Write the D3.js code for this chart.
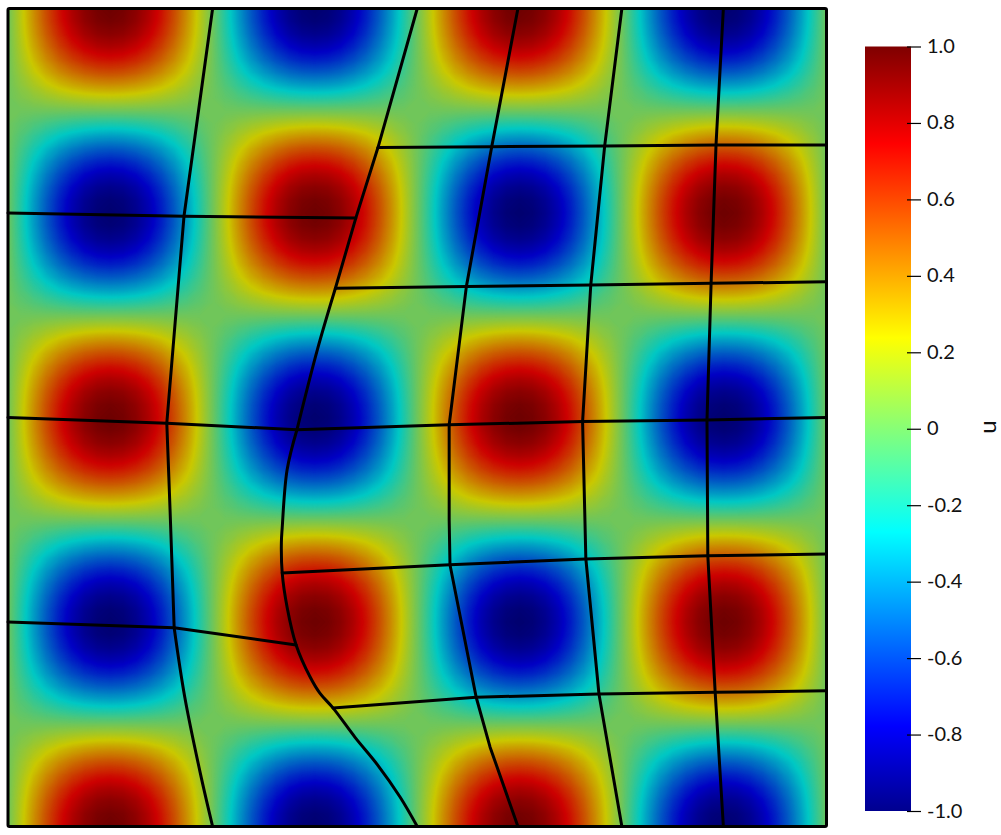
<!DOCTYPE html>
<html>
<head>
<meta charset="utf-8">
<script src="https://cdn.jsdelivr.net/npm/d3@7"></script>
<style>
html,body{margin:0;padding:0;background:#fff;overflow:hidden}
text{font-family:"Lato","Open Sans",sans-serif;fill:#111}
</style>
</head>
<body>
<svg id="chart" width="1001" height="835"></svg>
<script>
// Colour bar
const legendTicks = [1, 0.8, 0.6, 0.4, 0.2, 0, -0.2, -0.4, -0.6, -0.8, -1];
const legendLabels = ["1.0", "0.8", "0.6", "0.4", "0.2", "0", "-0.2", "-0.4", "-0.6", "-0.8", "-1.0"];
const colorStops = [-1, -0.778, -0.27, -0.016, 0.238, 0.746, 1];
const barColors = ["#00008f", "#0000ff", "#00ffff", "#7fff7f", "#ffff00", "#ff0000", "#7f0000"];
const fieldColors = ["#00006e", "#0000c4", "#00c8c4", "#68c662", "#cac800", "#cc0000", "#6e0000"];

// Field u sampled along x (left to right) and y (top to bottom), 65 samples each
const uAlongX = [
  0, .195, .383, .556, .707, .831, .924, .981, 1, .981, .924, .831, .707, .556, .383, .195,
  0, -.195, -.383, -.556, -.707, -.831, -.924, -.981, -1, -.981, -.924, -.831, -.707, -.556, -.383, -.195,
  0, .195, .383, .556, .707, .831, .924, .981, 1, .981, .924, .831, .707, .556, .383, .195,
  0, -.195, -.383, -.556, -.707, -.831, -.924, -.981, -1, -.981, -.924, -.831, -.707, -.556, -.383, -.195,
  0];
const uAlongY = [
  1, .981, .924, .831, .707, .556, .383, .195, 0, -.195, -.383, -.556, -.707, -.831, -.924, -.981,
  -1, -.981, -.924, -.831, -.707, -.556, -.383, -.195, 0, .195, .383, .556, .707, .831, .924, .981,
  1, .981, .924, .831, .707, .556, .383, .195, 0, -.195, -.383, -.556, -.707, -.831, -.924, -.981,
  -1, -.981, -.924, -.831, -.707, -.556, -.383, -.195, 0, .195, .383, .556, .707, .831, .924, .981,
  1];

// Mesh lines in domain coordinates [x, y] (y upwards): straight pieces
const meshV1Top = [[.25,1],[.215,.746],[.194,.493]];
const meshV2Top = [[.5,1],[.452,.83],[.425,.744],[.4,.658]];
const meshV3 = [[.623,1],[.591,.831],[.56,.66],[.539,.491],[.539,.375],[.54,.32],[.572,.158],[.589,.097],[.623,0]];
const meshV4 = [[.75,1],[.729,.832],[.712,.662],[.702,.495],[.706,.327],[.722,.162],[.75,0]];
const meshV5 = [[.874,1],[.865,.833],[.859,.664],[.854,.497],[.855,.331],[.864,.164],[.874,0]];
const meshH1 = [[0,.75],[.215,.746],[.425,.744]];
const meshH2 = [[.452,.83],[.591,.831],[.729,.832],[.865,.833],[1,.833]];
const meshH3 = [[.4,.658],[.56,.66],[.712,.662],[.859,.664],[1,.666]];
const meshH4 = [[0,.5],[.194,.493],[.353,.485],[.539,.491],[.702,.495],[.854,.497],[1,.5]];
const meshH5 = [[.335,.31],[.54,.32],[.706,.327],[.855,.331],[1,.333]];
const meshH6 = [[0,.25],[.203,.243],[.352,.222]];
const meshH7 = [[.397,.145],[.572,.158],[.722,.162],[.864,.164],[1,.166]];
const straightLines = [meshV1Top, meshV2Top, meshV3, meshV4, meshV5, meshH1, meshH2, meshH3, meshH4, meshH5, meshH6, meshH7];

// Mesh lines: curved pieces
const meshV1Mid = [[.194,.493],[.198,.387],[.203,.243]];
const meshV1Low = [[.203,.243],[.216,.158],[.235,.065],[.25,0]];
const meshV2Mid = [[.4,.658],[.378,.583],[.353,.485]];
const meshV2Low = [[.353,.485],[.341,.436],[.335,.365],[.334,.347],[.335,.31],[.341,.268],[.352,.222],[.369,.183],[.381,.163],[.397,.145],[.424,.109],[.451,.076],[.479,.036],[.5,0]];
const curvedLines = [meshV1Mid, meshV1Low, meshV2Mid, meshV2Low];

const svg = d3.select("#chart");
const plot = {left: 8, right: 826.5, top: 8.5, bottom: 826.5};
const x = d3.scaleLinear().domain([0, 1]).range([plot.left, plot.right]);
const y = d3.scaleLinear().domain([0, 1]).range([plot.bottom, plot.top]);
const colX = d3.scaleLinear().domain([0, uAlongX.length - 1]).range([plot.left, plot.right]);
const rowY = d3.scaleLinear().domain([0, uAlongY.length - 1]).range([plot.top, plot.bottom]);

const fieldColor = d3.scaleLinear().domain(colorStops).range(fieldColors).clamp(true);
const barColor = d3.scaleLinear().domain(colorStops).range(barColors).clamp(true);

// Field as filled contours
const nx = uAlongX.length, ny = uAlongY.length;
const grid = new Array(nx * ny);
uAlongY.forEach((vy, j) => uAlongX.forEach((vx, i) => { grid[j * nx + i] = vx * vy; }));
const levels = d3.range(-1, 1.0001, 2 / 256);
const contours = d3.contours().size([nx, ny]).thresholds(levels)(grid);
const toScreen = d3.geoTransform({point(a, b) { this.stream.point(colX(a - 0.5), rowY(b - 0.5)); }});
const contourPath = d3.geoPath(toScreen);

svg.append("defs").append("clipPath").attr("id", "plotClip").append("rect")
  .attr("x", plot.left).attr("y", plot.top)
  .attr("width", plot.right - plot.left).attr("height", plot.bottom - plot.top);

svg.append("g").attr("clip-path", "url(#plotClip)")
  .selectAll("path").data(contours).join("path")
  .attr("d", contourPath)
  .attr("fill", d => fieldColor(d.value + 1 / 256));

// Mesh lines
const lineStraight = d3.line().x(d => x(d[0])).y(d => y(d[1]));
const lineCurved = d3.line().x(d => x(d[0])).y(d => y(d[1])).curve(d3.curveCatmullRom.alpha(0.5));
const meshG = svg.append("g").attr("fill", "none").attr("stroke", "#000").attr("stroke-width", 3)
  .attr("stroke-linejoin", "round").attr("stroke-linecap", "round");
meshG.selectAll("path.straight").data(straightLines).join("path").attr("class", "straight").attr("d", lineStraight);
meshG.selectAll("path.curved").data(curvedLines).join("path").attr("class", "curved").attr("d", lineCurved);

// Frame
svg.append("rect")
  .attr("x", x(0)).attr("y", y(1))
  .attr("width", x(1) - x(0)).attr("height", y(0) - y(1))
  .attr("rx", 1.5)
  .attr("fill", "none").attr("stroke", "#000").attr("stroke-width", 3);

// Colour bar
const bar = {left: 865, right: 911, top: 46.5, bottom: 811};
const legendScale = d3.scaleLinear().domain([1, -1]).range([bar.top, bar.bottom]);
const barGrad = svg.select("defs").append("linearGradient").attr("id", "barGrad")
  .attr("x1", 0).attr("x2", 0).attr("y1", 0).attr("y2", 1);
barGrad.selectAll("stop").data(colorStops.slice().reverse()).join("stop")
  .attr("offset", d => (1 - d) / 2)
  .attr("stop-color", d => barColor(d));
svg.append("rect")
  .attr("x", bar.left).attr("y", bar.top)
  .attr("width", bar.right - bar.left).attr("height", bar.bottom - bar.top)
  .attr("fill", "url(#barGrad)");

const legendAxis = d3.axisRight(legendScale)
  .tickValues(legendTicks)
  .tickSize(0)
  .tickFormat((d, i) => legendLabels[i]);
const axisG = svg.append("g").attr("transform", `translate(${bar.right},0)`).call(legendAxis);
axisG.select(".domain").remove();
axisG.selectAll(".tick line")
  .attr("x1", -4).attr("x2", 10).attr("stroke", "#000").attr("stroke-width", 1.2);
axisG.selectAll(".tick text")
  .attr("x", 16).attr("dy", "0.3em")
  .attr("font-size", 20)
  .style("font-family", '"Lato","Open Sans",sans-serif').attr("fill", "#111");

svg.append("text")
  .attr("transform", "translate(996,427) rotate(-90)")
  .attr("text-anchor", "middle")
  .attr("font-size", 24)
  .text("u");
</script>
</body>
</html>
